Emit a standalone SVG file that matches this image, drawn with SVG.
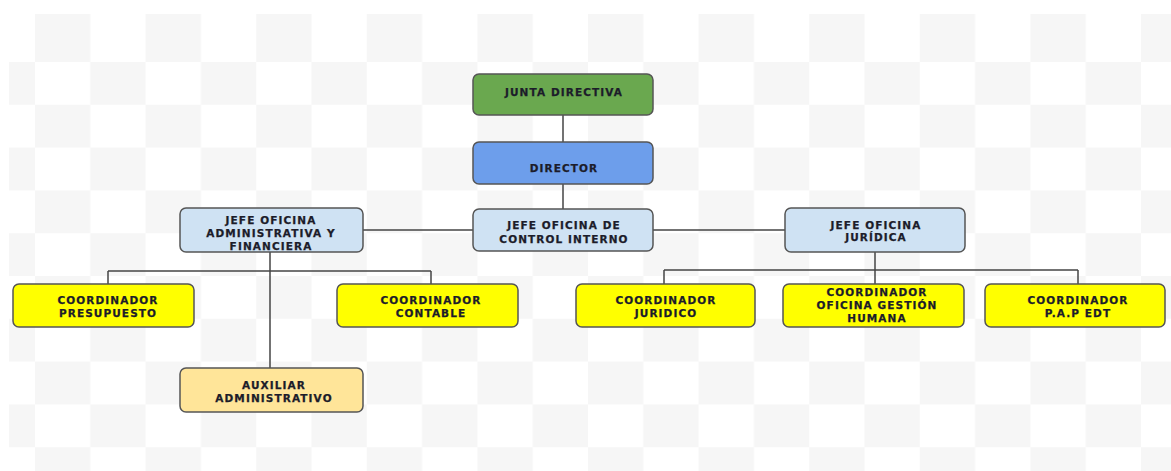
<svg xmlns="http://www.w3.org/2000/svg" width="1171" height="471" viewBox="0 0 1171 471">
<defs>
<pattern id="chk" patternUnits="userSpaceOnUse" x="35" y="62" width="110.6" height="85.6">
<rect x="55.3" y="0" width="55.3" height="42.8" fill="#f6f6f6"/>
<rect x="0" y="42.8" width="55.3" height="42.8" fill="#f6f6f6"/>
</pattern>
<pattern id="chk1" patternUnits="userSpaceOnUse" x="35" y="14" width="110.6" height="48">
<rect x="0" y="0" width="55.3" height="48" fill="#f6f6f6"/>
</pattern>
<style>
.box{stroke:#555;stroke-width:1.5}
.green{fill:#6aa84f}
.blue{fill:#6d9eeb}
.lblue{fill:#cfe2f3}
.yellow{fill:#ffff00}
.orange{fill:#ffe599}
text{font-family:"DejaVu Sans","Liberation Sans",sans-serif;font-weight:bold;font-size:10.5px;letter-spacing:1.1px;fill:#1c1c2a;stroke:#1c1c2a;stroke-width:0.25;text-anchor:middle}
.conn line{stroke:#444;stroke-width:1.5}
</style>
</defs>
<rect width="1171" height="471" fill="#ffffff"/>
<rect x="9" y="14" width="1162" height="48" fill="url(#chk1)"/>
<rect x="9" y="62" width="1162" height="409" fill="url(#chk)"/>

<g id="connectors" class="conn">
<line x1="563" y1="115" x2="563" y2="142"/>
<line x1="563" y1="184" x2="563" y2="209"/>
<line x1="363" y1="230" x2="473" y2="230"/>
<line x1="653" y1="230" x2="785" y2="230"/>
<line x1="270" y1="252" x2="270" y2="368"/>
<line x1="108" y1="271" x2="431" y2="271"/>
<line x1="108" y1="271" x2="108" y2="284"/>
<line x1="431" y1="271" x2="431" y2="284"/>
<line x1="875" y1="252" x2="875" y2="284"/>
<line x1="664" y1="270" x2="1078" y2="270"/>
<line x1="664" y1="270" x2="664" y2="284"/>
<line x1="1078" y1="270" x2="1078" y2="284"/>
</g>

<g id="junta">
<rect class="box green" x="473" y="74" width="180" height="41" rx="6"/>
<text x="564" y="96">JUNTA DIRECTIVA</text>
</g>
<g id="director">
<rect class="box blue" x="473" y="142" width="180" height="42" rx="6"/>
<text x="564" y="171.5">DIRECTOR</text>
</g>
<g id="control">
<rect class="box lblue" x="473" y="209" width="180" height="42" rx="6"/>
<text x="564" y="228.5">JEFE OFICINA DE</text>
<text x="564" y="242.5">CONTROL INTERNO</text>
</g>
<g id="administrativa">
<rect class="box lblue" x="180" y="208" width="183" height="44" rx="6"/>
<text x="271" y="224">JEFE OFICINA</text>
<text x="271" y="237">ADMINISTRATIVA Y</text>
<text x="271" y="249.5">FINANCIERA</text>
</g>
<g id="juridica">
<rect class="box lblue" x="785" y="208" width="180" height="44" rx="6"/>
<text x="876" y="229">JEFE OFICINA</text>
<text x="876" y="241">JURÍDICA</text>
</g>
<g id="presupuesto">
<rect class="box yellow" x="13" y="284" width="181" height="43" rx="6"/>
<text x="108" y="303.5">COORDINADOR</text>
<text x="108" y="317">PRESUPUESTO</text>
</g>
<g id="contable">
<rect class="box yellow" x="337" y="284" width="181" height="43" rx="6"/>
<text x="431" y="303.5">COORDINADOR</text>
<text x="431" y="317">CONTABLE</text>
</g>
<g id="juridico">
<rect class="box yellow" x="576" y="284" width="179" height="43" rx="6"/>
<text x="666" y="303.5">COORDINADOR</text>
<text x="666" y="317">JURIDICO</text>
</g>
<g id="gestion">
<rect class="box yellow" x="783" y="284" width="181" height="43" rx="6"/>
<text x="877" y="295.5">COORDINADOR</text>
<text x="877" y="309">OFICINA GESTIÓN</text>
<text x="877" y="322">HUMANA</text>
</g>
<g id="pap">
<rect class="box yellow" x="985" y="284" width="180" height="43" rx="6"/>
<text x="1078" y="303.5">COORDINADOR</text>
<text x="1078" y="317">P.A.P EDT</text>
</g>
<g id="auxiliar">
<rect class="box orange" x="180" y="368" width="183" height="44" rx="6"/>
<text x="274" y="388.5">AUXILIAR</text>
<text x="274" y="402">ADMINISTRATIVO</text>
</g>
</svg>
